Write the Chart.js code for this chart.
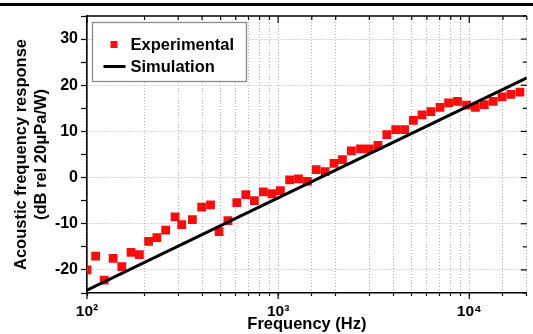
<!DOCTYPE html>
<html><head><meta charset="utf-8">
<script src="https://cdn.jsdelivr.net/npm/chart.js@4"></script>
<style>
html,body{margin:0;padding:0;background:#fff;overflow:hidden}
#wrap{position:relative;width:533px;height:334px}
#cv{position:absolute;left:0;top:0;width:533px;height:334px}
#rule{position:absolute;left:0;top:3px;width:533px;height:3px;background:#000}
</style></head><body>
<div id="wrap"><div id="cv"><canvas id="c"></canvas></div><div id="rule"></div></div>
<script>
// Experimental data (frequency in Hz, level in dB)
const expFreq = [100, 111, 123, 137, 152, 170, 188, 210, 232, 258, 289, 313, 356, 398, 443, 491, 546, 608, 677, 751, 837, 929,
  1028, 1148, 1278, 1423, 1583, 1762, 1960, 2171, 2417, 2698, 2993, 3329, 3704, 4122, 4587, 5102, 5659, 6300, 7030, 7800, 8680, 9680,
  10770, 11990, 13340, 14840, 16510, 18400];
const expLevel = [-20.0, -17.0, -22.2, -17.5, -19.3, -16.2, -16.7, -13.8, -13.0, -11.4, -8.5, -10.2, -9.1, -6.4, -5.9, -11.7, -9.3, -5.4, -3.7, -5.0, -3.1, -3.5,
  -2.8, -0.5, -0.3, -0.8, 1.7, 1.3, 3.1, 3.9, 5.8, 6.2, 6.2, 7.0, 9.3, 10.4, 10.4, 12.4, 13.6, 14.3, 15.2, 16.2, 16.5, 15.7,
  15.2, 15.8, 16.5, 17.5, 18.0, 18.5];
// Simulation (straight line on log axis)
const simFreq = [100, 1000, 10000, 20000];
const simLevel = [-24.4, -4.4, 15.6, 21.6];
// Tick labels
const xTickValues = [100, 1000, 10000];
const xTickLabels = ['10²', '10³', '10⁴'];
const yTickValues = [-20, -10, 0, 10, 20, 30];
const seriesNames = ['Experimental', 'Simulation'];
const xTitle = 'Frequency (Hz)';
const yTitle = ['Acoustic frequency response', '(dB rel 20μPa/W)'];

const FONT = 'Liberation Sans, Arial, sans-serif';
const GRID = '#b4b4b4';

const isXMajor = v => xTickValues.indexOf(Math.round(v)) >= 0;
const isYMajor = v => yTickValues.indexOf(Math.round(v)) >= 0;

const framePlugin = {
  id: 'frame',
  afterDraw(chart) {
    const ctx = chart.ctx, a = chart.chartArea;
    const xs = chart.scales.x, ys = chart.scales.y;
    ctx.save();
    ctx.strokeStyle = '#000';
    ctx.lineWidth = 1.5;
    ctx.beginPath();
    ctx.moveTo(a.left - 0.75, a.top);
    ctx.lineTo(a.right, a.top);
    ctx.stroke();
    ctx.lineWidth = 1.2;
    xs.ticks.forEach(t => {
      const px = xs.getPixelForValue(t.value);
      const len = isXMajor(t.value) ? 7 : 4;
      ctx.beginPath(); ctx.moveTo(px, a.top); ctx.lineTo(px, a.top + len); ctx.stroke();
      if (isXMajor(t.value)) { ctx.beginPath(); ctx.moveTo(px, a.bottom); ctx.lineTo(px, a.bottom + 6); ctx.stroke(); }
    });
    ys.ticks.forEach(t => {
      const py = ys.getPixelForValue(t.value);
      const len = isYMajor(t.value) ? 6 : 4;
      ctx.beginPath(); ctx.moveTo(a.right, py); ctx.lineTo(a.right - len, py); ctx.stroke();
    });
    ctx.restore();
  }
};

const legendPlugin = {
  id: 'boxLegend',
  afterDraw(chart) {
    const ctx = chart.ctx, a = chart.chartArea;
    const ds = chart.data.datasets;
    const bx = a.left + 5.5, by = a.top + 6.5, bw = 154, bh = 59;
    ctx.save();
    ctx.fillStyle = '#fff';
    ctx.fillRect(bx, by, bw, bh);
    ctx.strokeStyle = '#8a8a8a';
    ctx.lineWidth = 1.3;
    ctx.strokeRect(bx, by, bw, bh);
    ctx.font = 'bold 16.5px ' + FONT;
    ctx.textBaseline = 'middle';
    ctx.fillStyle = '#000';
    const e = ds.find(d => d.label === seriesNames[0]);
    const s = ds.find(d => d.label === seriesNames[1]);
    ctx.fillStyle = e.backgroundColor;
    ctx.fillRect(bx + 18, by + 18.5, 7, 7);
    ctx.fillStyle = '#000';
    ctx.fillText(e.label, bx + 38, by + 23);
    ctx.strokeStyle = s.borderColor;
    ctx.lineWidth = 3;
    ctx.beginPath(); ctx.moveTo(bx + 11, by + 44); ctx.lineTo(bx + 33, by + 44); ctx.stroke();
    ctx.fillText(s.label, bx + 38, by + 45);
    ctx.restore();
  }
};

new Chart(document.getElementById('c'), {
  type: 'line',
  data: {
    datasets: [
      {
        label: seriesNames[1],
        data: simFreq.map((f, i) => ({x: f, y: simLevel[i]})),
        borderColor: '#000', borderWidth: 3, pointRadius: 0, fill: false, tension: 0,
        order: 0, clip: 0
      },
      {
        label: seriesNames[0],
        data: expFreq.map((f, i) => ({x: f, y: expLevel[i]})),
        showLine: false, pointStyle: 'rect', pointRadius: 6.2, pointBorderWidth: 0,
        backgroundColor: '#ff0a0a', borderColor: '#ff0a0a', pointBackgroundColor: '#ff0a0a',
        order: 1, clip: 0
      }
    ]
  },
  options: {
    responsive: true, maintainAspectRatio: false, animation: false,
    devicePixelRatio: 1,
    layout: {padding: {top: 16, left: 0, right: 0, bottom: 0}},
    plugins: {legend: {display: false}, tooltip: {enabled: false}, title: {display: false}},
    scales: {
      x: {
        type: 'logarithmic', position: 'bottom', min: 100, max: 20000,
        afterFit: s => { s.height = 41; },
        ticks: {
          autoSkip: false, maxRotation: 0, minRotation: 0, padding: 6, color: '#000',
          font: {family: FONT, weight: 'bold', size: 15.5},
          callback: v => { const i = xTickValues.indexOf(Math.round(v)); return i >= 0 ? xTickLabels[i] : ''; }
        },
        grid: {color: GRID, lineWidth: 1, tickColor: '#000', tickLength: 3, tickWidth: 1.2},
        border: {display: true, color: '#000', width: 1.6, dash: [1, 2]},
        title: {display: true, text: xTitle, color: '#000', font: {family: FONT, weight: 'bold', size: 16.5, lineHeight: 1.2}, padding: {top: 0, bottom: 0}}
      },
      y: {
        type: 'linear', position: 'left', min: -25, max: 35,
        afterFit: s => { s.width = 87; },
        ticks: {
          stepSize: 5, autoSkip: false, padding: 3, color: '#000',
          font: {family: FONT, weight: 'bold', size: 16},
          callback: v => isYMajor(v) ? String(v) : ''
        },
        grid: {
          color: c => (c.tick && isYMajor(c.tick.value)) ? GRID : 'rgba(0,0,0,0)',
          lineWidth: 1, tickColor: '#000', tickLength: 6, tickWidth: 1.2
        },
        border: {display: true, color: '#000', width: 1.6, dash: [1, 2]},
        title: {display: true, text: yTitle, color: '#000', font: {family: FONT, weight: 'bold', size: 16.5, lineHeight: 1.2}, padding: {top: 12, bottom: 0}}
      }
    }
  },
  plugins: [framePlugin, legendPlugin]
});
</script>
</body></html>
